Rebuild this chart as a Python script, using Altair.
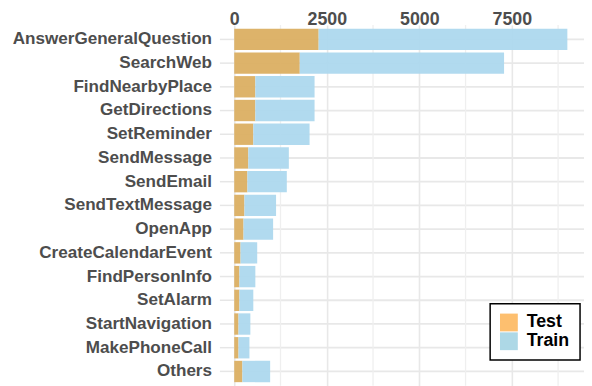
import altair as alt
import pandas as pd

categories = ["AnswerGeneralQuestion", "SearchWeb", "FindNearbyPlace", "GetDirections",
              "SetReminder", "SendMessage", "SendEmail", "SendTextMessage", "OpenApp",
              "CreateCalendarEvent", "FindPersonInfo", "SetAlarm", "StartNavigation",
              "MakePhoneCall", "Others"]
test_counts = [2280, 1770, 570, 570, 515, 380, 355, 275, 250, 170, 140, 140, 115, 115, 220]
train_counts = [6720, 5520, 1600, 1600, 1520, 1095, 1065, 855, 800, 450, 430, 375, 320, 295, 750]
splits = ["Test", "Train"]
major_ticks = [0, 2500, 5000, 7500]
minor_ticks = [1250, 3750, 6250, 8750]
x_max = 9450

rows = []
for c, t, r in zip(categories, test_counts, train_counts):
    rows.append({"cat": c, "split": "Test", "n": t, "ord": 0})
    rows.append({"cat": c, "split": "Train", "n": r, "ord": 1})
df = pd.DataFrame(rows)
minor_df = pd.DataFrame({"v": minor_ticks})
legend_df = pd.DataFrame({"split": splits, "n": [0, 0], "cat": [categories[0]] * 2})

FONT = "Liberation Sans"
xscale = alt.Scale(domain=[0, x_max], nice=False, zero=True)

minor = alt.Chart(minor_df).mark_rule(color="#EFEFEF", strokeWidth=1.3).encode(
    x=alt.X("v:Q", scale=xscale)
)

bars = alt.Chart(df).mark_bar(opacity=0.95).encode(
    x=alt.X("n:Q", stack="zero", scale=xscale, title=None,
            axis=alt.Axis(orient="top", values=major_ticks, format="d", domain=False,
                          ticks=False, grid=True, gridColor="#E8E8E8", gridWidth=1.6,
                          labelFont=FONT, labelFontSize=18, labelFontWeight="bold",
                          labelColor="#4D4D4D", labelPadding=1, labelBaseline="alphabetic",
                          labelFlush=False)),
    y=alt.Y("cat:N", sort=categories, title=None,
            scale=alt.Scale(paddingInner=0.1, paddingOuter=0.15),
            axis=alt.Axis(domain=False, ticks=True, tickSize=15, tickColor="#E6E6E6",
                          tickWidth=1.5, grid=True, gridColor="#E8E8E8", gridWidth=1.8,
                          bandPosition=0.5, labelFont=FONT, labelFontSize=17.3, labelLimit=0,
                          labelFontWeight="bold", labelColor="#4D4D4D", labelPadding=8)),
    color=alt.Color("split:N", scale=alt.Scale(domain=splits, range=["#DBAF62", "#ADD8EE"]),
                    legend=None),
    order=alt.Order("ord:Q", sort="ascending"),
)

legend_layer = alt.Chart(legend_df).mark_square(opacity=0, size=1).encode(
    x=alt.X("n:Q", scale=xscale),
    y=alt.Y("cat:N", sort=categories),
    color=alt.Color("split:N", scale=alt.Scale(domain=splits, range=["#FDBF6F", "#ADD8E6"]),
                    title=None,
                    legend=alt.Legend(orient="none", legendX=259, legendY=282,
                                      symbolType="square", symbolSize=324, symbolStrokeWidth=0,
                                      symbolOpacity=1,
                                      labelFont=FONT, labelFontSize=18, labelFontWeight="bold",
                                      labelColor="#000000", labelOffset=9, rowPadding=1,
                                      padding=10, strokeColor="#000000", fillColor="#FFFFFF")),
)

chart = alt.layer(minor, bars, legend_layer).resolve_scale(color="independent").properties(
    width=354, height=365,
    autosize=alt.AutoSizeParams(type="none"),
    padding={"left": 229, "top": 15, "right": 0, "bottom": 0},
).configure_view(stroke=None).configure_legend(strokeWidth=1.5)

chart.save("out.html", embed_options={"renderer": "svg", "actions": False})
